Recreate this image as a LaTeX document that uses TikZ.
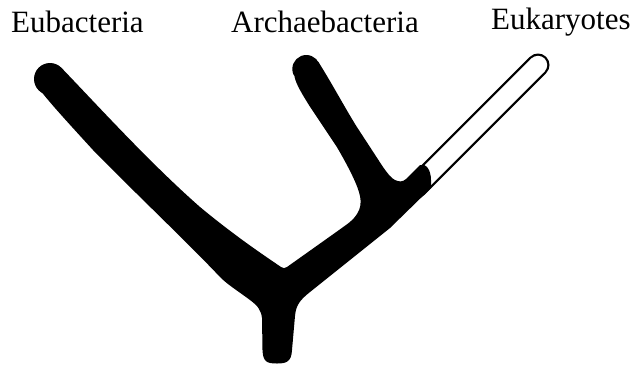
\documentclass[tikz,border=0pt]{standalone}
\usepackage{fontspec}
\setmainfont{Liberation Serif}
\begin{document}
\begin{tikzpicture}[x=1pt,y=-1pt,
  lbl/.style={anchor=base west, inner sep=0pt, font=\fontsize{31}{31}\selectfont},
  treefill/.style={fill=black, draw=none},
  eukouter/.style={draw=black, line width=23pt, line cap=round},
  eukinner/.style={draw=white, line width=18.4pt, line cap=butt}]
\useasboundingbox (0,0) rectangle (635,365);

% labels
\node[lbl] (eub) at (11,32.3) {Eubacteria};
\node[lbl] (arc) at (231,32) {Archaebacteria};
\node[lbl] (euk) at (491,29.5) {Eukaryotes};

% named points
\coordinate (capL) at (50,79);
\coordinate (capA) at (306.3,69);
\coordinate (K0) at (416,187);
\coordinate (K1) at (538,65);
\coordinate (W0) at (420,183);

% Eukaryote branch: hollow outline
\draw[eukouter] (K0) -- (K1);
\draw[eukinner] (W0) -- (K1);
\fill[white] (K1) circle [radius=9.2pt];

% main solid tree
\path[treefill]
  (37,86) -- (61.5,67.9)
  .. controls (100,108) and (150,163) .. (200,207)
  .. controls (235,236) and (262,254) .. (281,267)
  .. controls (283,268.5) and (285,268.5) .. (287,267)
  -- (336.7,231.7) -- (346,225)
  .. controls (360,215) and (363,205) .. (359,192)
  .. controls (356,182) and (348,166) .. (336.7,146.7)
  -- (310,106.7)
  .. controls (302,94) and (296,84) .. (294.5,76.6)
  -- (318,61.4)
  .. controls (330,80) and (345,108) .. (356.7,126.7)
  -- (383,167)
  .. controls (388,174) and (391,178) .. (395,180)
  .. controls (399,182) and (403,182) .. (406,179)
  -- (420,165)
  .. controls (426,163) and (431,170) .. (431,180)
  -- (431,188) -- (390,228) -- (310,292)
  .. controls (300,300) and (296,305) .. (295,316)
  -- (292,350)
  .. controls (291.5,362) and (286,363.5) .. (277,363.5)
  .. controls (267,363.5) and (263,362) .. (262.5,350)
  -- (262,318)
  .. controls (261,310) and (258,306) .. (250,300)
  .. controls (238,291) and (228,285) .. (220,277)
  .. controls (190,245) and (130,188) .. (93,150)
  .. controls (72,127) and (47,100) .. (37,86)
  -- cycle;

% rounded branch tips
\fill[black] (capL) circle [radius=16pt];
\fill[black] (capA) circle [radius=14pt];
\end{tikzpicture}
\end{document}
